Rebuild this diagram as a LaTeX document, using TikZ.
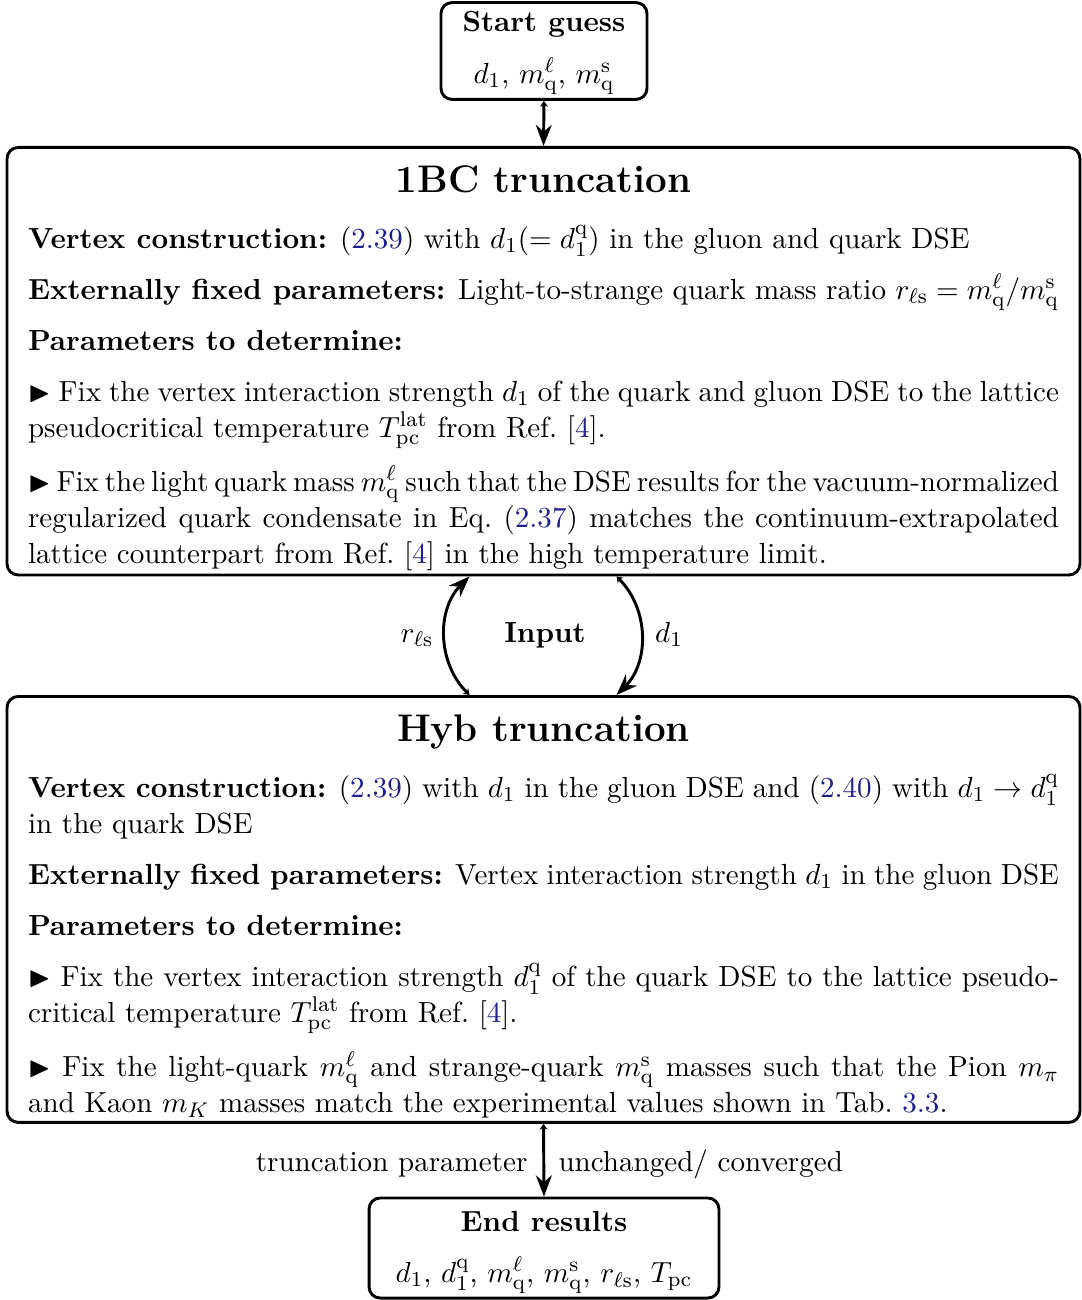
\documentclass[tikz,border=0pt]{standalone}
\usepackage{amsmath,amssymb}
\usetikzlibrary{arrows.meta}

\definecolor{linkblue}{RGB}{30,30,140}
\newcommand{\lnk}[1]{\textcolor{linkblue}{#1}}
\newcommand{\mqk}[1]{m_{\mathrm{q}}^{#1}}
\newcommand{\rls}{r_{\ell\mathrm{s}}}
\newcommand{\bul}{$\blacktriangleright$}
\newcommand{\paneltitle}[1]{\centerline{\fontsize{14.5}{18}\selectfont\bfseries\rule{0pt}{15.36pt}#1}\vspace{7.5pt}}
\newcommand{\panelsetup}{\setlength{\parindent}{0pt}\setlength{\parskip}{5.61pt}}
% interword glue with a little more shrink for tightly set lines
\newcommand{\tightspaces}{\spaceskip=0.3333em plus 0.1666em minus 0.16em\relax}

\tikzset{
  bodyfont/.style={font=\fontsize{10.95}{13.6}\selectfont},
  panel/.style={draw, line width=1.1pt, rounded corners=4.2pt, anchor=north,
    text width=388.3pt, align=justify, inner xsep=7.91pt, inner ysep=1.5pt, bodyfont,
    execute at begin node=\panelsetup},
  smallbox/.style={draw, line width=1.1pt, rounded corners=4.2pt, align=center,
    inner sep=0pt, bodyfont},
  lbl/.style={inner sep=0pt, bodyfont},
  flow/.style={line width=1.1pt, arrows={Stealth[length=2.2pt,width=3pt]-Stealth}},
}

\begin{document}
\begin{tikzpicture}[x=0.37665pt, y=-0.37665pt]
\useasboundingbox (0,0) rectangle (1081,1300);

% start values
\node[smallbox, minimum width=77.6pt, minimum height=36.5pt] (start) at (544,51)
  {\rule{0pt}{9pt}\textbf{Start guess}\\[6.05pt]$d_1$, $\mqk{\ell}$, $\mqk{\mathrm{s}}$};

% first truncation scheme
\node[panel] (onebc) at (543.5,146) {%
  \paneltitle{1BC truncation}
  \textbf{Vertex construction:} (\lnk{2.39}) with $d_1(=d_1^{\mathrm{q}})$ in the gluon and quark DSE\par
  \textbf{Externally fixed parameters:} Light-to-strange quark mass ratio $\rls=\mqk{\ell}/\mqk{\mathrm{s}}$\par
  \textbf{Parameters to determine:}\par
  \bul{} Fix the vertex interaction strength $d_1$ of the quark and gluon DSE to the lattice\linebreak
  pseudocritical temperature $T_{\mathrm{pc}}^{\mathrm{lat}}$ from Ref.~[\lnk{4}].\par
  {\tightspaces
  \bul{} Fix the light quark mass $\mqk{\ell}$ such that the DSE results for the \mbox{vacuum-normalized}\linebreak
  regularized quark condensate in Eq.~(\lnk{2.37}) matches the continuum-extrapolated\linebreak
  lattice counterpart from Ref.~[\lnk{4}] in the high temperature limit.\par}
};

% hybrid truncation scheme
\node[panel] (hyb) at (543.5,695) {%
  \paneltitle{Hyb truncation}
  \textbf{Vertex construction:} (\lnk{2.39}) with $d_1$ in the gluon DSE and (\lnk{2.40}) with $d_1\to d_1^{\mathrm{q}}$\linebreak
  in the quark DSE\par
  \textbf{Externally fixed parameters:} Vertex interaction strength $d_1$ in the gluon DSE\par
  \textbf{Parameters to determine:}\par
  \bul{} Fix the vertex interaction strength $d_1^{\mathrm{q}}$ of the quark DSE to the lattice pseudo-\linebreak
  critical temperature $T_{\mathrm{pc}}^{\mathrm{lat}}$ from Ref.~[\lnk{4}].\par
  \bul{} Fix the light-quark $\mqk{\ell}$ and strange-quark $\mqk{\mathrm{s}}$ masses such that the Pion $m_\pi$\linebreak
  and Kaon $m_K$ masses match the experimental values shown in Tab.~\lnk{3.3}.\par
};

% final values
\node[smallbox, minimum width=131.8pt, minimum height=37.7pt] (end) at (544,1248)
  {\rule{0pt}{11pt}\textbf{End results}\\[5.6pt]$d_1$, $d_1^{\mathrm{q}}$, $\mqk{\ell}$, $\mqk{\mathrm{s}}$, $\rls$, $T_{\mathrm{pc}}$};

% connectors
\draw[flow] (start.south) -- (onebc.north);
\draw[flow] ([xshift=-27.87pt]hyb.north) to[bend left=45] ([xshift=-27.87pt]onebc.south);
\draw[flow] ([xshift=27.5pt]onebc.south) to[bend left=45] ([xshift=27.5pt]hyb.north);
\draw[flow] (hyb.south) -- (end.north);

% connector labels
\node[lbl, font=\fontsize{10.95}{13.6}\selectfont\bfseries, anchor=base] (input) at (545,642) {Input};
\node[lbl, anchor=base] (lrls) at (417,642) {$\rls$};
\node[lbl, anchor=base] (ldone) at (669,642) {$d_1$};
\node[lbl, anchor=base east] (ltrunc) at (528,1171) {truncation parameter};
\node[lbl, anchor=base west] (lconv) at (558,1171) {unchanged/ converged};
\end{tikzpicture}
\end{document}
